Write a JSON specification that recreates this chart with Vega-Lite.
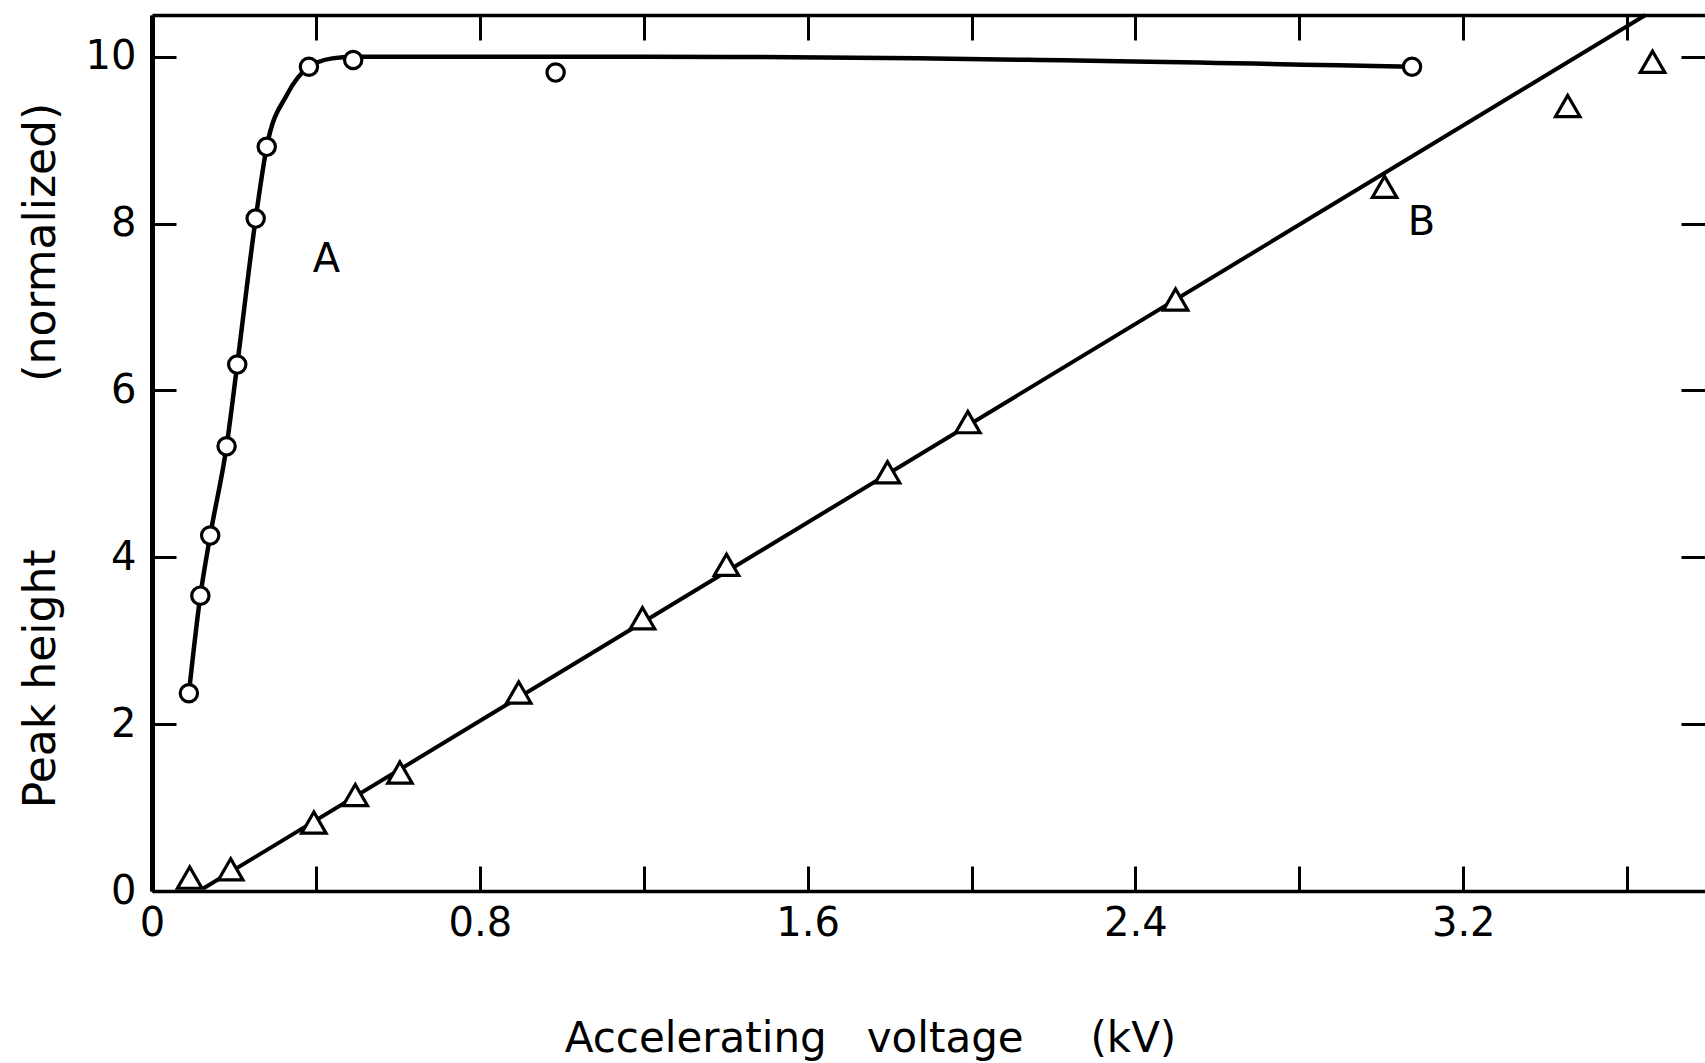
{
  "$schema": "https://vega.github.io/schema/vega-lite/v6.json",
  "autosize": "none",
  "padding": {"left": 152, "top": 15, "right": 0, "bottom": 172},
  "width": 1553,
  "height": 876,
  "background": "white",
  "config": {
    "view": {"stroke": null},
    "font": "DejaVu Sans",
    "axis": {
      "grid": false,
      "domainColor": "black",
      "tickColor": "black",
      "labelColor": "black",
      "titleColor": "black",
      "labelFont": "DejaVu Sans",
      "titleFont": "DejaVu Sans",
      "labelFontWeight": "normal",
      "titleFontWeight": "normal"
    }
  },
  "datasets": {
    "curveA": [
      {"kV": 0.090, "h": 2.37},
      {"kV": 0.118, "h": 3.54},
      {"kV": 0.142, "h": 4.26},
      {"kV": 0.182, "h": 5.33},
      {"kV": 0.208, "h": 6.31},
      {"kV": 0.253, "h": 8.06},
      {"kV": 0.280, "h": 8.92},
      {"kV": 0.330, "h": 9.55},
      {"kV": 0.383, "h": 9.88},
      {"kV": 0.440, "h": 9.98},
      {"kV": 0.491, "h": 10.0},
      {"kV": 1.200, "h": 10.0},
      {"kV": 3.075, "h": 9.88}
    ],
    "pointsA": [
      {"kV": 0.090, "h": 2.37},
      {"kV": 0.118, "h": 3.54},
      {"kV": 0.142, "h": 4.26},
      {"kV": 0.182, "h": 5.33},
      {"kV": 0.208, "h": 6.31},
      {"kV": 0.253, "h": 8.06},
      {"kV": 0.280, "h": 8.92},
      {"kV": 0.383, "h": 9.88},
      {"kV": 0.491, "h": 9.96},
      {"kV": 0.985, "h": 9.81},
      {"kV": 3.075, "h": 9.88}
    ],
    "lineB": [
      {"kV": 0.125, "h": 0.03},
      {"kV": 3.645, "h": 10.5}
    ],
    "pointsB": [
      {"kV": 0.092, "h": 0.16},
      {"kV": 0.192, "h": 0.26},
      {"kV": 0.395, "h": 0.82},
      {"kV": 0.496, "h": 1.15},
      {"kV": 0.605, "h": 1.42},
      {"kV": 0.895, "h": 2.38},
      {"kV": 1.197, "h": 3.27},
      {"kV": 1.402, "h": 3.91},
      {"kV": 1.795, "h": 5.02},
      {"kV": 1.991, "h": 5.62},
      {"kV": 2.498, "h": 7.09},
      {"kV": 3.008, "h": 8.44},
      {"kV": 3.455, "h": 9.41},
      {"kV": 3.662, "h": 9.94}
    ],
    "curveLabels": [
      {"kV": 0.426, "h": 7.42, "t": "A"},
      {"kV": 3.098, "h": 7.86, "t": "B"}
    ]
  },
  "layer": [
    {
      "layer": [
        {
          "data": {"name": "curveA"},
          "mark": {"type": "line", "interpolate": "monotone", "color": "black", "strokeWidth": 4.5},
          "encoding": {
            "x": {
              "field": "kV", "type": "quantitative",
              "scale": {"domain": [0, 3.79], "nice": false, "zero": false},
              "axis": {
                "orient": "bottom",
                "values": [0, 0.4, 0.8, 1.2, 1.6, 2.0, 2.4, 2.8, 3.2, 3.6],
                "labelExpr": "round(datum.value * 10) % 8 == 0 ? (datum.value == 0 ? '0' : format(datum.value, '.1f')) : ''",
                "tickSize": -25,
                "tickWidth": 3,
                "domainWidth": 3.5,
                "labelFontSize": 40,
                "labelPadding": 37,
                "labelFlush": false,
                "labelOverlap": false,
                "labelBound": false,
                "title": "Accelerating\u00a0\u00a0 voltage\u00a0\u00a0\u00a0\u00a0 (kV)",
                "titleFontSize": 42,
                "titleX": 718,
                "titleY": 160,
                "titleAlign": "center",
                "titleBaseline": "alphabetic"
              }
            },
            "y": {
              "field": "h", "type": "quantitative",
              "scale": {"domain": [0, 10.5], "nice": false, "zero": false},
              "axis": {
                "orient": "left",
                "values": [0, 2, 4, 6, 8, 10],
                "format": "d",
                "tickSize": -24,
                "tickWidth": 3,
                "domainWidth": 5,
                "labelFontSize": 40,
                "labelPadding": 40,
                "labelOverlap": false,
                "labelBound": false,
                "title": "Peak height\u00a0\u00a0\u00a0\u00a0\u00a0\u00a0\u00a0\u00a0\u00a0\u00a0\u00a0 (normalized)",
                "titleFontSize": 44,
                "titleAngle": 270,
                "titleX": -98,
                "titleY": 440,
                "titleAlign": "center",
                "titleBaseline": "alphabetic"
              }
            }
          }
        },
        {
          "data": {"name": "lineB"},
          "mark": {"type": "line", "color": "black", "strokeWidth": 4},
          "encoding": {
            "x": {"field": "kV", "type": "quantitative"},
            "y": {"field": "h", "type": "quantitative"}
          }
        },
        {
          "data": {"name": "pointsA"},
          "mark": {"type": "point", "shape": "circle", "size": 300, "filled": true, "fill": "white", "stroke": "black", "strokeWidth": 3.2, "opacity": 1},
          "encoding": {
            "x": {"field": "kV", "type": "quantitative"},
            "y": {"field": "h", "type": "quantitative"}
          }
        },
        {
          "data": {"name": "curveLabels"},
          "mark": {"type": "text", "fontSize": 40, "font": "DejaVu Sans", "color": "black", "align": "center", "baseline": "alphabetic"},
          "encoding": {
            "x": {"field": "kV", "type": "quantitative"},
            "y": {"field": "h", "type": "quantitative"},
            "text": {"field": "t"}
          }
        }
      ]
    },
    {
      "data": {"name": "pointsB"},
      "mark": {"type": "point", "shape": "triangle-up", "size": 600, "filled": true, "fill": "white", "stroke": "black", "strokeWidth": 3.2, "opacity": 1},
      "encoding": {
        "x": {
          "field": "kV", "type": "quantitative",
          "axis": {
            "orient": "top",
            "values": [0, 0.4, 0.8, 1.2, 1.6, 2.0, 2.4, 2.8, 3.2, 3.6],
            "labels": false,
            "tickSize": -25,
            "tickWidth": 3,
            "domainWidth": 3.5,
            "title": null
          }
        },
        "y": {
          "field": "h", "type": "quantitative",
          "axis": {
            "orient": "right",
            "values": [2, 4, 6, 8, 10],
            "labels": false,
            "tickSize": -24,
            "tickWidth": 3,
            "domain": false,
            "title": null
          }
        }
      }
    }
  ],
  "resolve": {"axis": {"x": "independent", "y": "independent"}}
}
